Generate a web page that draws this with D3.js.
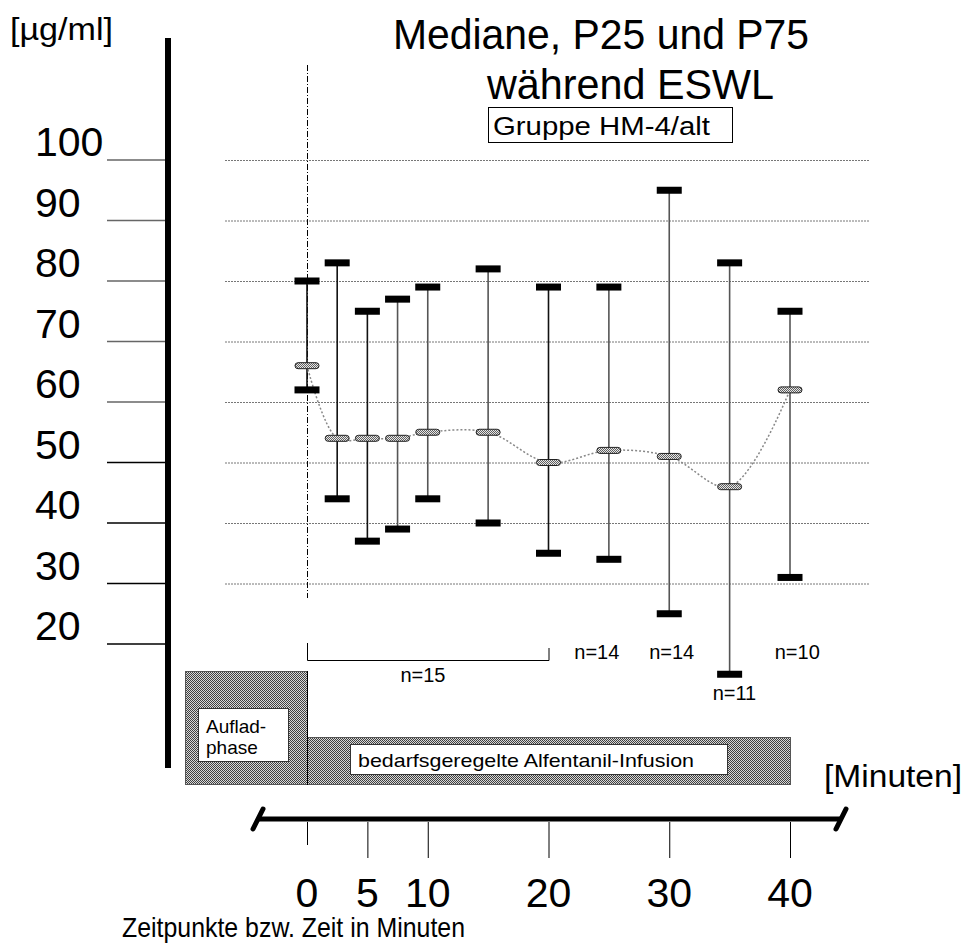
<!DOCTYPE html>
<html>
<head>
<meta charset="utf-8">
<script src="https://cdn.jsdelivr.net/npm/d3@7"></script>
<style>
  body { margin: 0; background: #fff; }
  text { font-family: "Liberation Sans", Arial, sans-serif; fill: #000; }
</style>
</head>
<body>
<script>
// time points (minutes) and the three percentiles per time point
var zeit = [0, 2.5, 5, 7.5, 10, 15, 20, 25, 30, 35, 40];
var p75 = [80, 83, 75, 77, 79, 82, 79, 79, 95, 83, 75];
var median = [66, 54, 54, 54, 55, 55, 50, 52, 51, 46, 62];
var p25 = [62, 44, 37, 39, 44, 40, 35, 34, 25, 15, 31];

var yTicks = [100, 90, 80, 70, 60, 50, 40, 30, 20];
var gridTicks = [100, 90, 80, 70, 60, 50, 40, 30];
var xTicks = [0, 5, 10, 20, 30, 40];

// n labels: text, time position, line
var nLabels = [
    { t: "n=14", x: 24, row: 0 },
    { t: "n=14", x: 30.2, row: 0 },
    { t: "n=11", x: 35.4, row: 1 },
    { t: "n=10", x: 40.6, row: 0 }
];

var svg = d3.select("body")
    .append("svg")
    .attr("width", 967)
    .attr("height", 944);

var x = d3.scaleLinear().domain([0, 40]).range([307, 790]);
var y = d3.scaleLinear().domain([20, 100]).range([644, 160]);

// hatch patterns
var defs = svg.append("defs");
var hatch = defs.append("pattern")
    .attr("id", "hatch")
    .attr("width", 2).attr("height", 2)
    .attr("patternUnits", "userSpaceOnUse");
hatch.append("rect").attr("width", 2).attr("height", 2).attr("fill", "#d8d8d8");
hatch.append("rect").attr("width", 1).attr("height", 1).attr("fill", "#404040");
hatch.append("rect").attr("x", 1).attr("y", 1).attr("width", 1).attr("height", 1).attr("fill", "#404040");

var hatchLight = defs.append("pattern")
    .attr("id", "hatchLight")
    .attr("width", 2).attr("height", 2)
    .attr("patternUnits", "userSpaceOnUse");
hatchLight.append("rect").attr("width", 2).attr("height", 2).attr("fill", "#e8e8e8");
hatchLight.append("rect").attr("width", 1).attr("height", 1).attr("fill", "#606060");
hatchLight.append("rect").attr("x", 1).attr("y", 1).attr("width", 1).attr("height", 1).attr("fill", "#606060");

// titles
svg.append("text").attr("x", 10).attr("y", 40)
    .style("font-size", "31px").attr("textLength", 103).attr("lengthAdjust", "spacingAndGlyphs")
    .text("[µg/ml]");
svg.append("text").attr("x", 393).attr("y", 49)
    .style("font-size", "42px").attr("textLength", 416).attr("lengthAdjust", "spacingAndGlyphs")
    .text("Mediane, P25 und P75");
svg.append("text").attr("x", 487).attr("y", 99)
    .style("font-size", "42px").attr("textLength", 287).attr("lengthAdjust", "spacingAndGlyphs")
    .text("während ESWL");

svg.append("rect")
    .attr("x", 488.5).attr("y", 107.5).attr("width", 244).attr("height", 35)
    .attr("fill", "#fff").attr("stroke", "#000").attr("stroke-width", 1);
svg.append("text").attr("x", 493).attr("y", 135)
    .style("font-size", "26px").attr("textLength", 217).attr("lengthAdjust", "spacingAndGlyphs")
    .text("Gruppe HM-4/alt");

// y axis
svg.append("rect")
    .attr("x", 165).attr("y", 38).attr("width", 6).attr("height", 730)
    .attr("fill", "#000");

svg.selectAll("line.ytick")
    .data(yTicks)
    .enter()
    .append("line")
    .attr("class", "ytick")
    .attr("x1", 107).attr("x2", 165)
    .attr("y1", function(d) { return y(d); })
    .attr("y2", function(d) { return y(d); })
    .attr("stroke", function(d) { return d > 55 ? "#666" : "#000"; })
    .attr("stroke-width", 1.5);

svg.selectAll("text.ylabel")
    .data(yTicks)
    .enter()
    .append("text")
    .attr("class", "ylabel")
    .attr("x", 35)
    .attr("y", function(d) { return y(d) - 4; })
    .style("font-size", "41px")
    .text(function(d) { return d; });

// grid
svg.selectAll("line.grid")
    .data(gridTicks)
    .enter()
    .append("line")
    .attr("class", "grid")
    .attr("x1", 225).attr("x2", 870)
    .attr("y1", function(d) { return y(d) + 0.5; })
    .attr("y2", function(d) { return y(d) + 0.5; })
    .attr("stroke", "#777")
    .attr("stroke-width", 1)
    .attr("stroke-dasharray", "2,1");

// dash-dot line at t=0
svg.append("line")
    .attr("x1", x(0) + 0.5).attr("x2", x(0) + 0.5)
    .attr("y1", 65).attr("y2", 598)
    .attr("stroke", "#000").attr("stroke-width", 1)
    .attr("stroke-dasharray", "6,2,1,2");

var rows = zeit.map(function(t, i) {
    return { t: t, hi: p75[i], med: median[i], lo: p25[i] };
});

// whiskers
svg.selectAll("line.whisker")
    .data(rows)
    .enter()
    .append("line")
    .attr("class", "whisker")
    .attr("x1", function(d) { return x(d.t); })
    .attr("x2", function(d) { return x(d.t); })
    .attr("y1", function(d) { return y(d.hi); })
    .attr("y2", function(d) { return y(d.lo); })
    .attr("stroke", function(d, i) { return i < 3 || i == 6 ? "#111" : "#555"; })
    .attr("stroke-width", 1.6);

// median line
svg.append("path")
    .datum(rows)
    .attr("d", d3.line()
        .x(function(d) { return x(d.t); })
        .y(function(d) { return y(d.med); })
        .curve(d3.curveCatmullRom))
    .attr("fill", "none")
    .attr("stroke", "#888")
    .attr("stroke-width", 1.5)
    .attr("stroke-dasharray", "2,2");

// P75 and P25 caps
["hi", "lo"].forEach(function(k) {
    svg.selectAll("rect.cap-" + k)
        .data(rows)
        .enter()
        .append("rect")
        .attr("class", "cap-" + k)
        .attr("x", function(d) { return x(d.t) - 12.5; })
        .attr("y", function(d) { return y(d[k]) - 3.5; })
        .attr("width", 25)
        .attr("height", 7)
        .attr("fill", "#000");
});

// median markers
svg.selectAll("rect.med")
    .data(rows)
    .enter()
    .append("rect")
    .attr("class", "med")
    .attr("x", function(d) { return x(d.t) - 12; })
    .attr("y", function(d) { return y(d.med) - 3; })
    .attr("width", 24)
    .attr("height", 6)
    .attr("rx", 3)
    .attr("fill", "url(#hatchLight)")
    .attr("stroke", "#222")
    .attr("stroke-width", 1);

// n=15 bracket
svg.append("path")
    .attr("d", "M" + (x(0) + 0.5) + ",643V660.5H" + (x(20) + 0.5) + "V648")
    .attr("fill", "none").attr("stroke", "#000").attr("stroke-width", 1);
svg.append("text").attr("x", x(9.6)).attr("y", 682)
    .attr("text-anchor", "middle").style("font-size", "20px").text("n=15");

svg.selectAll("text.n")
    .data(nLabels)
    .enter()
    .append("text")
    .attr("class", "n")
    .attr("x", function(d) { return x(d.x); })
    .attr("y", function(d) { return d.row ? 700 : 659; })
    .attr("text-anchor", "middle")
    .style("font-size", "20px")
    .text(function(d) { return d.t; });

// phases
svg.append("rect")
    .attr("x", 185.5).attr("y", 671.5).attr("width", x(0) - 185).attr("height", 113)
    .attr("fill", "url(#hatch)").attr("stroke", "#555").attr("stroke-width", 1);
svg.append("rect")
    .attr("x", x(0) + 0.5).attr("y", 737.5).attr("width", x(40) - x(0)).attr("height", 47)
    .attr("fill", "url(#hatch)").attr("stroke", "#555").attr("stroke-width", 1);
svg.append("line")
    .attr("x1", x(0) + 0.5).attr("x2", x(0) + 0.5).attr("y1", 671).attr("y2", 785)
    .attr("stroke", "#000");

svg.append("rect")
    .attr("x", 198.5).attr("y", 708.5).attr("width", 90).attr("height", 53)
    .attr("fill", "#fff").attr("stroke", "#333");
svg.append("text").attr("x", 206).attr("y", 733).style("font-size", "19px").text("Auflad-");
svg.append("text").attr("x", 206).attr("y", 754).style("font-size", "19px").text("phase");

svg.append("rect")
    .attr("x", 350.5).attr("y", 744.5).attr("width", 377).attr("height", 30)
    .attr("fill", "#fff").attr("stroke", "#333");
svg.append("text").attr("x", 358).attr("y", 767)
    .style("font-size", "19px").attr("textLength", 336).attr("lengthAdjust", "spacingAndGlyphs")
    .text("bedarfsgeregelte Alfentanil-Infusion");

svg.append("text").attr("x", 824).attr("y", 787)
    .style("font-size", "31px").attr("textLength", 138).attr("lengthAdjust", "spacingAndGlyphs")
    .text("[Minuten]");

// time axis
svg.append("line")
    .attr("x1", 258).attr("x2", 840).attr("y1", 819).attr("y2", 819)
    .attr("stroke", "#000").attr("stroke-width", 5);
[[253, 829, 263, 809], [836, 829, 846, 809]].forEach(function(s) {
    svg.append("line")
        .attr("x1", s[0]).attr("y1", s[1]).attr("x2", s[2]).attr("y2", s[3])
        .attr("stroke", "#000").attr("stroke-width", 5).attr("stroke-linecap", "round");
});

svg.selectAll("line.xtick")
    .data(xTicks)
    .enter()
    .append("line")
    .attr("class", "xtick")
    .attr("x1", function(d) { return x(d) + 0.5; })
    .attr("x2", function(d) { return x(d) + 0.5; })
    .attr("y1", 822)
    .attr("y2", function(d) { return d === 0 ? 845 : 858; })
    .attr("stroke", "#000").attr("stroke-width", 1);

svg.selectAll("text.xlabel")
    .data(xTicks)
    .enter()
    .append("text")
    .attr("class", "xlabel")
    .attr("x", function(d) { return x(d); })
    .attr("y", 907)
    .attr("text-anchor", "middle")
    .style("font-size", "41px")
    .text(function(d) { return d; });

svg.append("text").attr("x", 122).attr("y", 937)
    .style("font-size", "28px").attr("textLength", 343).attr("lengthAdjust", "spacingAndGlyphs")
    .text("Zeitpunkte bzw. Zeit in Minuten");
</script>
</body>
</html>
